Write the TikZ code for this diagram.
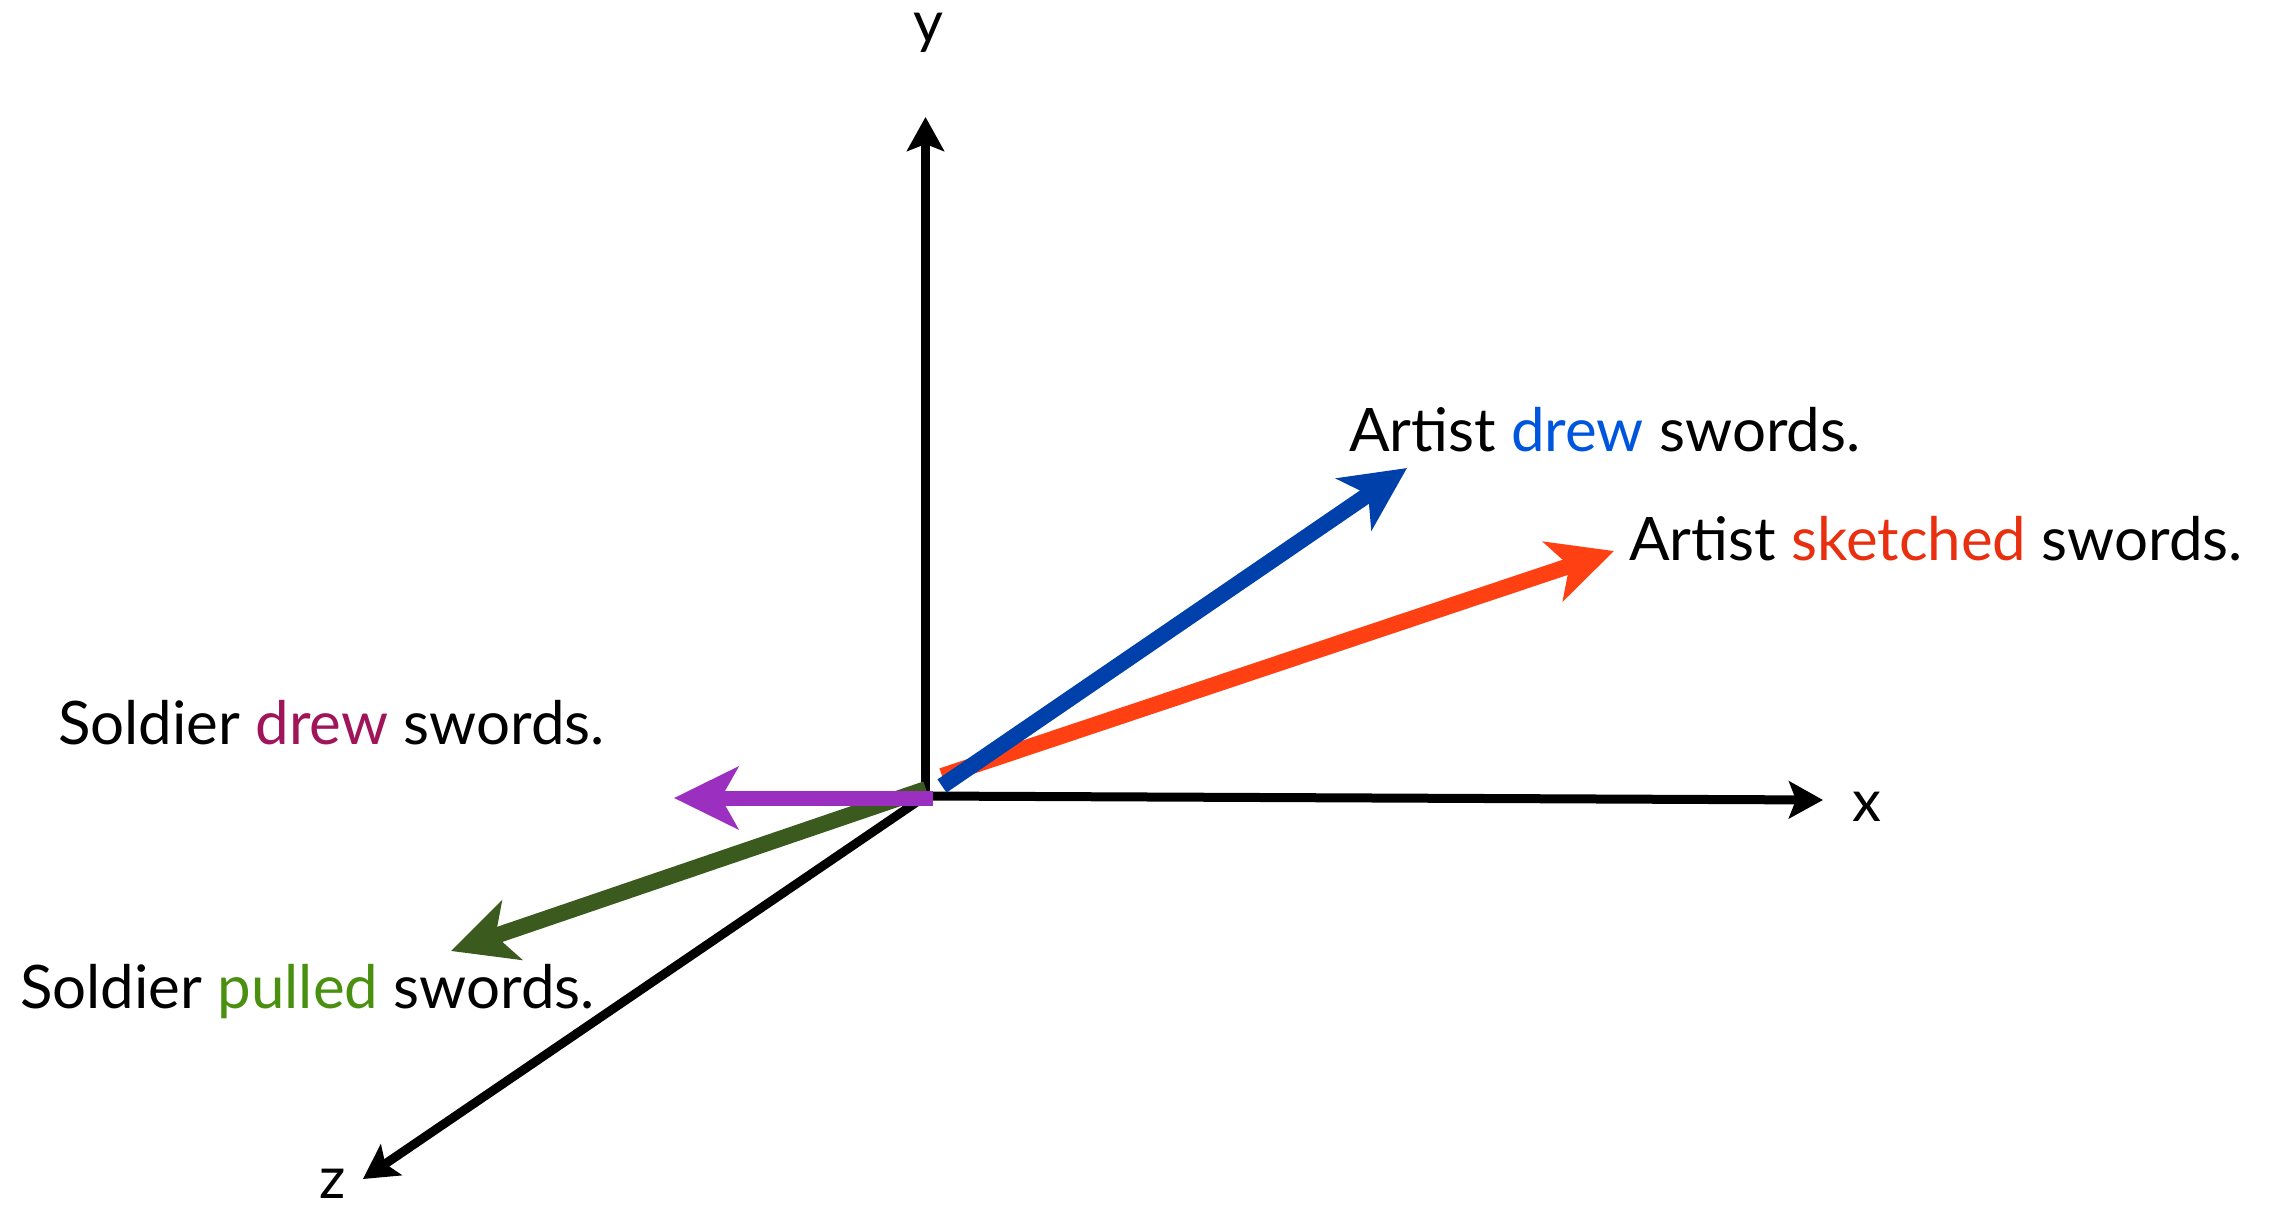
\documentclass[tikz,border=0pt]{standalone}
\usepackage{fontspec}
\setmainfont{Lato}
\usetikzlibrary{arrows.meta}
\definecolor{vblue}{RGB}{0,64,170}
\definecolor{vorange}{RGB}{255,64,19}
\definecolor{vgreen}{RGB}{58,90,30}
\definecolor{vpurple}{RGB}{155,47,191}
\definecolor{tblue}{RGB}{0,85,221}
\definecolor{tred}{RGB}{232,48,16}
\definecolor{tmaroon}{RGB}{160,20,90}
\definecolor{tgreen}{RGB}{74,144,16}
\tikzset{
  axis/.style={line width=9pt, black, -{Stealth[length=34pt,width=37pt,inset=7pt]}},
  vec/.style={line width=#1, -{Stealth[length=64pt,width=62pt,inset=17pt]}},
  lbl/.style={inner sep=0pt, anchor=base west, font=\fontsize{60}{72}\selectfont},
  axlbl/.style={inner sep=0pt, anchor=base, font=\fontsize{58}{70}\selectfont}
}
\begin{document}
\begin{tikzpicture}[x=1pt,y=-1pt]
\useasboundingbox (0,0) rectangle (2274,1207);
% coordinates
\coordinate (O) at (925.5,796);
\coordinate (Yt) at (925.5,117);
\coordinate (Xt) at (1823,800);
\coordinate (Zt) at (363,1179);
\coordinate (Bs) at (942,786);
\coordinate (Bt) at (1407,468);
\coordinate (Rs) at (942,776);
\coordinate (Rt) at (1614,551);
\coordinate (Gs) at (926,789);
\coordinate (Gt) at (451,951);
\coordinate (Ps) at (933,798);
\coordinate (Pt) at (674,798);
% axes
\draw[axis] (O) -- (Zt);
\draw[axis] (O) -- (Xt);
\draw[axis] (O) -- (Yt);
% vectors
\draw[vec=16pt, vgreen] (Gs) -- (Gt);
\draw[vec=16pt, vorange] (Rs) -- (Rt);
\draw[vec=16pt, vblue] (Bs) -- (Bt);
\draw[vec=15pt, vpurple] (Ps) -- (Pt);
% axis labels
\node[axlbl] (ly) at (928,43) {y};
\node[axlbl] (lx) at (1867,821) {x};
\node[axlbl] (lz) at (333,1198) {z};
% sentence labels
\node[lbl] (ad) at (1349,451) {Artist \textcolor{tblue}{drew} swords.};
\node[lbl] (as) at (1629,560) {Artist \textcolor{tred}{sketched} swords.};
\node[lbl] (sd) at (58,744) {Soldier \textcolor{tmaroon}{drew} swords.};
\node[lbl] (sp) at (20,1008) {Soldier \textcolor{tgreen}{pulled} swords.};
\end{tikzpicture}
\end{document}
